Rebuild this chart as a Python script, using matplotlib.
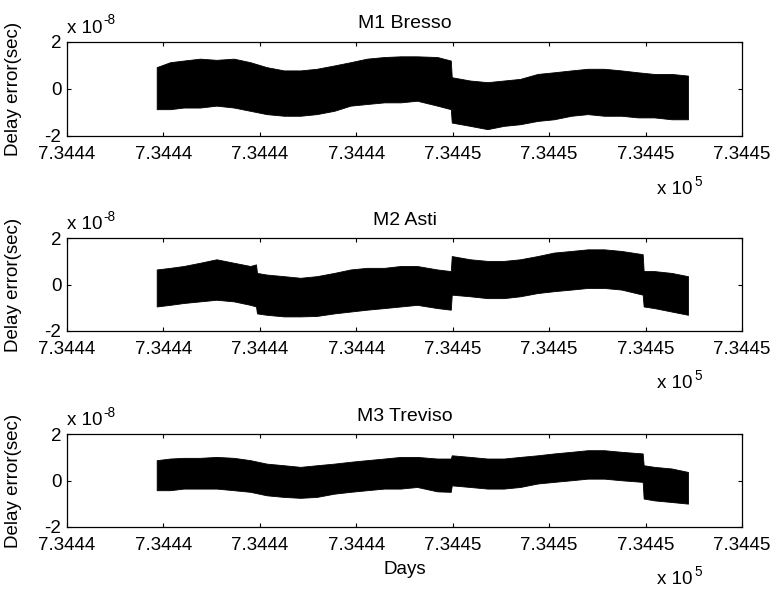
"""Delay error of three receivers (M1 Bresso, M2 Asti, M3 Treviso) over days."""

import matplotlib

matplotlib.use("Agg")
import matplotlib.pyplot as plt

plt.rcParams["font.family"] = ["Liberation Sans", "DejaVu Sans"]
plt.rcParams["axes.unicode_minus"] = False

# x ticks (days, serial date numbers) and the labels the figure prints for them
tick_days = [734441, 734442, 734443, 734444, 734445, 734446, 734447, 734448]
tick_labels = ["7.3444", "7.3444", "7.3444", "7.3444", "7.3445", "7.3445", "7.3445", "7.3445"]
y_ticks = [-2, 0, 2]
y_tick_labels = ["-2", "0", "2"]

titles = ["M1 Bresso", "M2 Asti", "M3 Treviso"]

# band envelopes, values in units of 1e-8 s
m1_days = [734441.93, 734442.07, 734442.21, 734442.38, 734442.55, 734442.73, 734442.90,
           734443.07, 734443.25, 734443.42, 734443.59, 734443.77, 734443.94, 734444.11,
           734444.29, 734444.46, 734444.63, 734444.84, 734444.98, 734444.99, 734445.18,
           734445.36, 734445.53, 734445.70, 734445.88, 734446.05, 734446.23, 734446.40,
           734446.57, 734446.75, 734446.92, 734447.09, 734447.27, 734447.44]
m1_upper = [0.93, 1.14, 1.21, 1.29, 1.24, 1.29, 1.14, 0.93, 0.79, 0.79, 0.86, 1.00, 1.14,
            1.29, 1.36, 1.39, 1.39, 1.36, 1.21, 0.50, 0.36, 0.29, 0.36, 0.43, 0.64, 0.71,
            0.79, 0.86, 0.86, 0.79, 0.71, 0.64, 0.64, 0.57]
m1_lower = [-0.86, -0.86, -0.79, -0.79, -0.71, -0.79, -0.93, -1.07, -1.14, -1.14, -1.07,
            -0.93, -0.71, -0.64, -0.57, -0.57, -0.50, -0.71, -0.86, -1.43, -1.57, -1.71,
            -1.57, -1.50, -1.36, -1.29, -1.14, -1.07, -1.14, -1.14, -1.21, -1.21, -1.29, -1.29]

m2_days = [734441.93, 734442.07, 734442.21, 734442.38, 734442.55, 734442.73, 734442.90,
           734442.96, 734442.97, 734443.07, 734443.25, 734443.42, 734443.59, 734443.77,
           734443.94, 734444.11, 734444.29, 734444.46, 734444.63, 734444.84, 734444.98,
           734444.99, 734445.18, 734445.36, 734445.53, 734445.70, 734445.88, 734446.05,
           734446.23, 734446.40, 734446.57, 734446.75, 734446.97, 734446.98, 734447.09,
           734447.27, 734447.44]
m2_upper = [0.66, 0.73, 0.81, 0.95, 1.10, 0.95, 0.81, 0.88, 0.51, 0.44, 0.37, 0.30, 0.37,
            0.51, 0.66, 0.73, 0.73, 0.81, 0.81, 0.66, 0.59, 1.24, 1.10, 1.03, 1.03, 1.10,
            1.24, 1.39, 1.46, 1.53, 1.53, 1.46, 1.32, 0.59, 0.59, 0.51, 0.37]
m2_lower = [-0.94, -0.87, -0.79, -0.72, -0.65, -0.72, -0.87, -0.94, -1.24, -1.30, -1.37,
            -1.37, -1.35, -1.24, -1.16, -1.08, -1.01, -0.94, -0.87, -1.01, -1.08, -0.43,
            -0.50, -0.58, -0.58, -0.50, -0.36, -0.28, -0.21, -0.14, -0.14, -0.21, -0.43,
            -0.94, -1.01, -1.16, -1.30]

m3_days = [734441.93, 734442.07, 734442.21, 734442.38, 734442.55, 734442.73, 734442.90,
           734443.07, 734443.25, 734443.42, 734443.59, 734443.77, 734443.94, 734444.11,
           734444.29, 734444.46, 734444.63, 734444.84, 734444.98, 734444.99, 734445.18,
           734445.36, 734445.53, 734445.70, 734445.88, 734446.05, 734446.23, 734446.40,
           734446.57, 734446.75, 734446.97, 734446.98, 734447.09, 734447.27, 734447.44]
m3_upper = [0.89, 0.96, 0.99, 0.99, 1.03, 0.99, 0.89, 0.74, 0.67, 0.60, 0.67, 0.74, 0.82,
            0.89, 0.96, 1.03, 1.03, 0.96, 0.96, 1.10, 1.03, 0.96, 0.96, 1.03, 1.10, 1.18,
            1.25, 1.32, 1.32, 1.25, 1.18, 0.67, 0.60, 0.53, 0.38]
m3_lower = [-0.41, -0.41, -0.34, -0.34, -0.34, -0.41, -0.48, -0.63, -0.70, -0.74, -0.70,
            -0.56, -0.48, -0.41, -0.34, -0.34, -0.27, -0.46, -0.48, -0.20, -0.27, -0.34,
            -0.34, -0.27, -0.12, -0.05, 0.02, 0.09, 0.09, 0.02, -0.05, -0.77, -0.85, -0.92,
            -0.99]

FONT = 13.5


def draw_panel(ax, days, upper, lower, title, last=False):
    """One MATLAB-style subplot: black band, inward ticks, exponent labels."""

    ax.fill_between(days, lower, upper, color="black", linewidth=0.6, edgecolor="black")
    ax.set_xlim(tick_days[0], tick_days[-1])
    ax.set_ylim(y_ticks[0], y_ticks[-1])
    ax.set_xticks(tick_days)
    ax.set_xticklabels(tick_labels)
    ax.set_yticks(y_ticks)
    ax.set_yticklabels(y_tick_labels)
    ax.tick_params(direction="in", top=True, right=True, length=3, width=0.8,
                   labelsize=FONT)
    ax.tick_params(axis="x", pad=7.5)
    ax.tick_params(axis="y", pad=4)
    for spine in ax.spines.values():
        spine.set_linewidth(0.9)
    ax.set_title(title, fontsize=14, pad=10)
    ax.set_ylabel("Delay error(sec)", fontsize=FONT)
    ax.yaxis.set_label_coords(-0.067, 0.5)

    # exponent markers as MATLAB prints them
    ax.text(0.0, 1.1, "x 10", transform=ax.transAxes, fontsize=FONT, ha="left", va="baseline")
    ax.text(0.054, 1.19, "-8", transform=ax.transAxes, fontsize=FONT * 0.72,
            ha="left", va="baseline")
    ax.text(0.927, -0.62, "x 10", transform=ax.transAxes, fontsize=FONT, ha="right",
            va="baseline")
    ax.text(0.929, -0.53, "5", transform=ax.transAxes, fontsize=FONT * 0.72, ha="left",
            va="baseline")
    if last:
        ax.text(0.5, -0.51, "Days", transform=ax.transAxes, fontsize=FONT, ha="center",
                va="baseline")


fig = plt.figure(figsize=(7.73, 5.92), dpi=100)
ax1 = fig.add_axes([0.0867, 0.7703, 0.8732, 0.1588])
ax2 = fig.add_axes([0.0867, 0.4409, 0.8732, 0.1563])
ax3 = fig.add_axes([0.0867, 0.1098, 0.8732, 0.1563])

draw_panel(ax1, m1_days, m1_upper, m1_lower, titles[0])
draw_panel(ax2, m2_days, m2_upper, m2_lower, titles[1])
draw_panel(ax3, m3_days, m3_upper, m3_lower, titles[2], last=True)

fig.savefig("out.png", dpi=100)
